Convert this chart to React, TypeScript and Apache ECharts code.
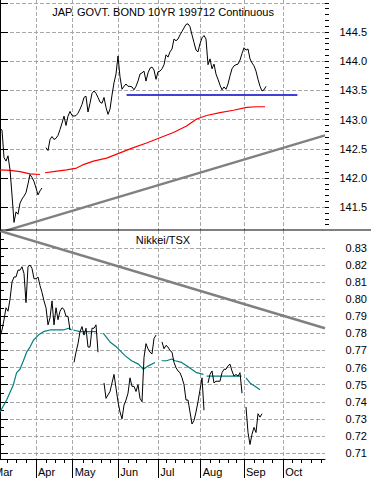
import React, { useEffect, useRef } from "react";
import * as echarts from "echarts";

const FONT = '"Liberation Sans", Arial, sans-serif';

// x axis: trading-day index
const monthNames = ["Mar", "Apr", "May", "Jun", "Jul", "Aug", "Sep", "Oct"];
const monthStarts = [-4, 18, 36.35, 59.15, 79.15, 100.35, 122, 141.65];
const weekTicks = [3.7, 8.3, 13, 23.3, 27.5, 32.2, 41.7, 46.2, 50.8, 55, 64.2, 68.3, 73.3, 83.3, 87.5, 92, 96.3, 105, 109.5, 114.2, 118.3, 127, 131.7, 136.3, 146.3, 150.8, 155.8, 160.8];

// y tick labels
const bondLabels = [141.5, 142.0, 142.5, 143.0, 143.5, 144.0, 144.5];
const bondMajorTicks = [141.5, 142.0, 142.5, 143.0, 143.5, 144.0, 144.5, 145.0];
const ratioLabels = [0.71, 0.72, 0.73, 0.74, 0.75, 0.76, 0.77, 0.78, 0.79, 0.8, 0.81, 0.82, 0.83];

// JGB 10yr continuous (daily, null = no data)
const bond: (number | null)[] = [
  142.85, 142.82, 142.35, 142.29, 142.38, 142.14, 141.71, 141.24, 141.42, 141.38, 141.57, 141.64, 141.69, 141.75, 141.9, 142.06, 142.01, 141.94, 141.83, 141.71, 141.78, 141.83,
  null,
  142.52, 142.47, 142.66, 142.71, 142.66, 142.68, 142.73, 142.83, 142.94, 143.06, 142.9, 143.06, 143.14, 143.07, 143.06, 143.07, 143.11, 143.18, 143.26, 143.38,
  143.4, 143.13, 143.28, 143.45, 143.49, 143.45, 143.38, 143.3, 143.28, 143.38, 143.21, 143.09, 143.18, 143.42, 143.63, 143.78, 144.09, 143.73, 143.52, 143.57,
  143.61, 143.57, 143.57, 143.56, 143.51, 143.57, 143.66, 143.78, 143.8, 143.83, 143.66, 143.8, 143.88, 143.9, 143.85, 143.69, 143.82, 143.83, 143.87, 143.94,
  144.11, 144.07, 144.16, 144.21, 144.38, 144.35, 144.38, 144.45, 144.51, 144.57, 144.63, 144.64, 144.59, 144.45, 144.32, 144.19, 144.16, 144.3, 144.4, 144.44,
  144.38, 143.94, 144.04, 143.87, 143.95, 143.78, 143.69, 143.59, 143.51, 143.56, 143.52, 143.61, 143.75, 143.87, 143.92, 143.94, 143.95, 144.02, 144.13, 144.23,
  144.19, 144.21, 144.04, 143.97, 143.92, 143.83, 143.69, 143.57, 143.49, 143.51, 143.57,
];

// Moving average of the bond [day, value], segments
const bondMA: number[][][] = [
  [[0, 142.14], [5, 142.13], [10, 142.11], [15, 142.07], [20, 142.06]],
  [[22.5, 142.09], [26.7, 142.11], [33.3, 142.14], [38.3, 142.17], [41.7, 142.23], [46.7, 142.29], [53.3, 142.34], [60, 142.43], [66.7, 142.52], [73.3, 142.6], [80, 142.69], [86.7, 142.78], [93.3, 142.89], [98.3, 143.01], [103.3, 143.07], [110, 143.12], [116.7, 143.16], [123.3, 143.21], [128.3, 143.22], [132.5, 143.22]],
];
const bondSupport = [[63.3, 143.42], [148.7, 143.42]];
const bondTrend = [[3, 141.1], [162.5, 142.73]];

// Nikkei / TSX ratio (daily, null = no data)
const ratio: (number | null)[] = [
  0.778, 0.782, 0.788, 0.795, 0.793, 0.8, 0.81, 0.813, 0.813, 0.817, 0.817, 0.819, 0.815, 0.798, 0.819, 0.82, 0.818, 0.812, 0.812, 0.813,
  0.808, 0.804, 0.799, 0.795, 0.785, 0.789, 0.799, 0.785, 0.795, 0.788, 0.793, 0.795, 0.794, 0.79, 0.79, 0.782,
  null,
  0.763, 0.769, 0.774, 0.781, 0.784, 0.779, 0.783, 0.772, 0.772, 0.783, 0.783, 0.785, 0.769,
  null, null,
  0.751, 0.742, 0.744, 0.746, 0.751, 0.756, 0.748, 0.74, 0.734, 0.73, 0.738, 0.741, 0.745, 0.754, 0.749, 0.749, 0.746, 0.75, 0.742, 0.74,
  0.766, 0.774, 0.771, 0.769, 0.768, 0.777, 0.779,
  null, null,
  0.775, 0.771, 0.773, 0.772, 0.77, 0.769, 0.763, 0.76, 0.758, 0.757, 0.754, 0.75, 0.741, 0.741, 0.734, 0.727, 0.729, 0.734, 0.74, 0.747,
  0.754, 0.735,
  null,
  0.751, 0.756, 0.758, 0.751, 0.752, 0.752, 0.752, 0.757, 0.759, 0.759, 0.761, 0.762, 0.758, 0.755, 0.756, 0.755, 0.757, 0.745,
  null,
  0.737, 0.722, 0.715, 0.721, 0.725, 0.722, 0.733, 0.731, 0.733,
];

const ratioMA: number[][][] = [
  [[0, 0.734], [3.3, 0.741], [6.7, 0.75], [8.3, 0.757], [10, 0.759], [11.7, 0.764], [13.3, 0.769], [15, 0.772], [16.7, 0.776], [19.2, 0.779], [21.7, 0.781], [25, 0.782], [28.3, 0.782], [31.7, 0.782], [34.2, 0.783], [35.8, 0.782]],
  [[36.7, 0.782], [40, 0.781], [43.3, 0.781], [48.3, 0.781]],
  [[51.7, 0.78], [55, 0.775], [58.3, 0.772], [62.5, 0.767], [65.8, 0.764], [69.2, 0.762], [71.7, 0.759], [74.2, 0.761], [77.5, 0.763]],
  [[80.8, 0.764], [83.3, 0.764], [85.8, 0.765], [87.5, 0.764], [90.8, 0.763], [93.3, 0.761], [95.8, 0.759], [98.3, 0.757], [101.7, 0.756]],
  [[103.3, 0.755], [110, 0.755], [116.7, 0.755], [120.8, 0.755]],
  [[123, 0.754], [125, 0.751], [127.5, 0.749], [130, 0.747]],
];
const ratioTrend = [[0, 0.84], [162.5, 0.783]];

const X_MIN = -4;
const X_MAX = 162.5;
const BOND_MIN = 141.11;
const BOND_MAX = 145.048;
const RATIO_MIN = 0.7065;
const RATIO_MAX = 0.8405;

const toPairs = (arr: (number | null)[]) => arr.map((v, i) => [i, v === null ? "-" : v]);
const joinSegs = (segs: number[][][]) => {
  const out: any[] = [];
  segs.forEach((s, i) => {
    if (i > 0) out.push([(segs[i - 1][segs[i - 1].length - 1][0] + s[0][0]) / 2, "-"]);
    s.forEach((p) => out.push(p));
  });
  return out;
};

const range = (a: number, b: number, step: number, dp: number) => {
  const r: number[] = [];
  for (let v = a; v <= b + step / 2; v += step) r.push(+v.toFixed(dp));
  return r;
};

const GRID_LINE = { show: true, lineStyle: { color: "#a8a8a8", width: 1, type: "dashed" } };

export default function App() {
  const ref = useRef<HTMLDivElement>(null);
  useEffect(() => {
    if (!ref.current) return;
    const chart = echarts.init(ref.current, undefined, { renderer: "svg" });
    const lineBase = {
      type: "line",
      showSymbol: false,
      symbol: "none",
      connectNulls: false,
      silent: true,
    };
    const textStyle = { fontFamily: FONT, fontSize: 11, color: "#000" };

    chart.setOption({
      animation: false,
      backgroundColor: "#fff",
      textStyle: { fontFamily: FONT },
      title: [
        {
          text: "JAP. GOVT. BOND 10YR 199712 Continuous",
          left: 163,
          top: 5,
          padding: 0,
          textAlign: "center",
          textStyle: { ...textStyle, fontWeight: "normal", lineHeight: 13 },
        },
        {
          text: "Nikkei/TSX",
          left: 163,
          top: 233.5,
          padding: 0,
          textAlign: "center",
          textStyle: { ...textStyle, fontWeight: "normal", lineHeight: 13 },
        },
      ],
      grid: [
        { left: -8, right: 46, top: 0, height: 230, containLabel: false, outerBoundsMode: "none" },
        { left: -8, right: 46, top: 230, height: 229, containLabel: false, outerBoundsMode: "none" },
      ],
      xAxis: [
        {
          gridIndex: 0,
          type: "value",
          min: X_MIN,
          max: X_MAX,
          show: true,
          axisLine: { show: false },
          axisTick: { show: false, customValues: monthStarts },
          axisLabel: { show: false },
          splitLine: GRID_LINE,
        },
        {
          gridIndex: 1,
          type: "value",
          min: X_MIN,
          max: X_MAX,
          position: "bottom",
          axisLine: { show: true, lineStyle: { color: "#000", width: 1 } },
          axisTick: { show: true, customValues: monthStarts, length: 19, lineStyle: { color: "#000" } },
          axisLabel: {
            show: true,
            customValues: monthStarts,
            formatter: (v: number) => monthNames[monthStarts.indexOf(v)] ?? "",
            align: "left",
            padding: [0, 0, 0, 2],
            margin: 6,
            hideOverlap: false,
            ...textStyle,
            lineHeight: 13,
          },
          splitLine: GRID_LINE,
        },
        {
          gridIndex: 1,
          type: "value",
          min: X_MIN,
          max: X_MAX,
          position: "bottom",
          axisLine: { show: false },
          axisTick: { show: true, customValues: weekTicks, length: 4, lineStyle: { color: "#000" } },
          axisLabel: { show: false },
          splitLine: { show: false },
        },
      ],
      yAxis: [
        {
          gridIndex: 0,
          type: "value",
          position: "right",
          min: BOND_MIN,
          max: BOND_MAX,
          axisLine: { show: true, lineStyle: { color: "#000", width: 1 } },
          axisTick: { show: true, inside: false, customValues: bondMajorTicks, length: 8, lineStyle: { color: "#000" } },
          axisLabel: {
            show: true,
            customValues: bondLabels,
            formatter: (v: number) => v.toFixed(1),
            align: "right",
            margin: 42,
            ...textStyle,
          },
          splitLine: GRID_LINE,
        },
        {
          gridIndex: 0,
          type: "value",
          position: "right",
          min: BOND_MIN,
          max: BOND_MAX,
          axisLine: { show: false },
          axisTick: { show: true, customValues: range(141.2, 145.0, 0.1, 1), length: 4, lineStyle: { color: "#000" } },
          axisLabel: { show: false },
          splitLine: { show: false },
        },
        {
          gridIndex: 1,
          type: "value",
          position: "right",
          min: RATIO_MIN,
          max: RATIO_MAX,
          axisLine: { show: true, lineStyle: { color: "#000", width: 1 } },
          axisTick: { show: true, customValues: ratioLabels, length: 8, lineStyle: { color: "#000" } },
          axisLabel: {
            show: true,
            customValues: ratioLabels,
            formatter: (v: number) => v.toFixed(2),
            align: "right",
            margin: 42,
            ...textStyle,
          },
          splitLine: GRID_LINE,
        },
        {
          gridIndex: 1,
          type: "value",
          position: "right",
          min: RATIO_MIN,
          max: RATIO_MAX,
          axisLine: { show: false },
          axisTick: { show: true, customValues: range(0.715, 0.835, 0.01, 3), length: 4, lineStyle: { color: "#000" } },
          axisLabel: { show: false },
          splitLine: { show: false },
        },
      ],
      series: [
        {
          ...lineBase,
          name: "Bond trend",
          xAxisIndex: 0,
          yAxisIndex: 0,
          data: bondTrend,
          lineStyle: { color: "#808080", width: 2.5 },
        },
        {
          ...lineBase,
          name: "Bond MA",
          xAxisIndex: 0,
          yAxisIndex: 0,
          data: joinSegs(bondMA),
          lineStyle: { color: "#ff0000", width: 1.2 },
        },
        {
          ...lineBase,
          name: "Support",
          xAxisIndex: 0,
          yAxisIndex: 0,
          data: bondSupport,
          lineStyle: { color: "#0000cc", width: 1.5 },
        },
        {
          ...lineBase,
          name: "JGB",
          xAxisIndex: 0,
          yAxisIndex: 0,
          data: toPairs(bond),
          lineStyle: { color: "#000", width: 1 },
        },
        {
          ...lineBase,
          name: "Ratio trend",
          xAxisIndex: 1,
          yAxisIndex: 2,
          data: ratioTrend,
          lineStyle: { color: "#808080", width: 2.5 },
        },
        {
          ...lineBase,
          name: "Ratio MA",
          xAxisIndex: 1,
          yAxisIndex: 2,
          data: joinSegs(ratioMA),
          lineStyle: { color: "#008080", width: 1.2 },
        },
        {
          ...lineBase,
          name: "Nikkei/TSX",
          xAxisIndex: 1,
          yAxisIndex: 2,
          data: toPairs(ratio),
          lineStyle: { color: "#000", width: 1 },
        },
      ],
      graphic: [
        {
          type: "line",
          silent: true,
          z: 10,
          shape: { x1: 0, y1: 230, x2: 371, y2: 230 },
          style: { stroke: "#000", lineWidth: 1 },
        },
      ],
    });
    return () => chart.dispose();
  }, []);
  return (
    <div
      ref={ref}
      style={{ position: "absolute", left: 0, top: 0, width: 371, height: 479, background: "#fff" }}
    />
  );
}
